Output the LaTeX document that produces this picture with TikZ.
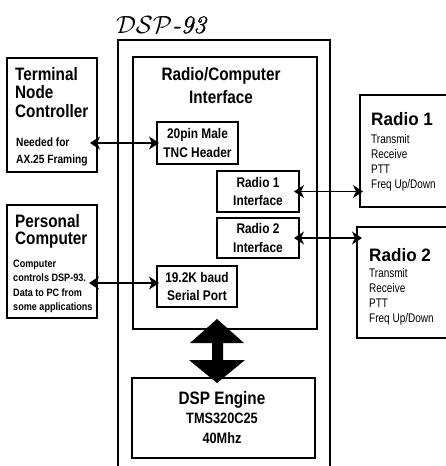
\documentclass[tikz,border=0pt]{standalone}
\usepackage{fontspec}
\setmainfont{Liberation Sans}
\newfontfamily\bnarrow[FakeStretch=0.85]{Liberation Sans}
\newfontfamily\rnarrow[FakeStretch=0.8]{Liberation Sans}
\newfontfamily\rwide[FakeStretch=0.95]{Liberation Sans}
\newfontfamily\lmfont[FakeBold=1.2]{Latin Modern Roman}
\usetikzlibrary{arrows.meta}
\begin{document}
\begin{tikzpicture}[x=1pt,y=-1pt,
  box/.style={draw, line width=1.6pt, inner sep=0pt, outer sep=0pt, anchor=north west},
  ibox/.style={box, align=center, font=\bnarrow\bfseries\fontsize{14}{18.5}\selectfont},
  ttl/.style={anchor=base west, inner sep=0pt, font=\bnarrow\bfseries\fontsize{18}{18}\selectfont},
  cttl/.style={ttl, anchor=base},
  rttl/.style={anchor=base west, inner sep=0pt, font=\rwide\bfseries\fontsize{18}{18}\selectfont},
  smA/.style={anchor=base west, inner sep=0pt, font=\bnarrow\bfseries\fontsize{12}{12}\selectfont},
  smB/.style={anchor=base west, inner sep=0pt, font=\bnarrow\bfseries\fontsize{10.7}{10.7}\selectfont},
  det/.style={anchor=base west, inner sep=0pt, font=\rnarrow\fontsize{12.5}{12.5}\selectfont},
  eng/.style={anchor=base, inner sep=0pt, font=\bnarrow\bfseries\fontsize{15}{15}\selectfont},
  conn/.style={line width=1.5pt, {Stealth[length=10pt,width=13pt,inset=3pt]}-{Stealth[length=10pt,width=13pt,inset=3pt]}}
]
\useasboundingbox (0,0) rectangle (445,466);

% title
\node[anchor=base, inner sep=0pt, font=\fontsize{25}{25}\selectfont] (title) at (161,33)
  {$\mathcal{DSP}$\lmfont\itshape -93};

% outer DSP-93 enclosure
\node[box, line width=1.3pt, minimum width=212pt, minimum height=440pt] (dsp93) at (118,40) {};
% radio/computer interface
\node[box, minimum width=184pt, minimum height=272pt] (rci) at (133,57) {};
\node[cttl] (rci1) at (221,80) {Radio/Computer};
\node[cttl] (rci2) at (221,103) {Interface};

% inner boxes
\node[ibox, minimum width=81pt, minimum height=42pt] (hdr) at (157,122) {20pin Male\\TNC Header};
\node[ibox, minimum width=82pt, minimum height=41pt] (r1if) at (217,171) {Radio 1\\Interface};
\node[ibox, minimum width=82pt, minimum height=40pt] (r2if) at (217,218) {Radio 2\\Interface};
\node[ibox, minimum width=80pt, minimum height=41pt] (serial) at (157,266) {19.2K baud\\Serial Port};

% DSP engine
\node[box, minimum width=183pt, minimum height=80pt] (dsp) at (132,378) {};
\node[anchor=base, inner sep=0pt, font=\bnarrow\bfseries\fontsize{18}{18}\selectfont] (de1) at (222,404) {DSP Engine};
\node[eng] (de2) at (222,423) {TMS320C25};
\node[eng] (de3) at (222,443) {40Mhz};

% TNC
\node[box, minimum width=90pt, minimum height=114pt] (tnc) at (7,58) {};
\node[ttl] (tnc1) at (15,80) {Terminal};
\node[ttl] (tnc2) at (15,98.5) {Node};
\node[ttl] (tnc3) at (15,117) {Controller};
\node[smA] (tnc4) at (16,146) {Needed for};
\node[smA] (tnc5) at (16,163) {AX.25 Framing};

% Personal computer
\node[box, minimum width=90pt, minimum height=113pt] (pc) at (7,205) {};
\node[ttl] (pc1) at (15,227) {Personal};
\node[ttl] (pc2) at (15,244) {Computer};
\node[smB] (pc3) at (13,267) {Computer};
\node[smB] (pc4) at (13,281.5) {controls DSP-93.};
\node[smB] (pc5) at (13,296) {Data to PC from};
\node[smB] (pc6) at (13,310.5) {some applications};

% Radio 1
\node[box, minimum width=100pt, minimum height=112pt] (radio1) at (360,95) {};
\node[rttl] (ra1) at (371,125) {Radio 1};
\node[det] (ra2) at (371,143) {Transmit};
\node[det] (ra3) at (371,158) {Receive};
\node[det] (ra4) at (371,173) {PTT};
\node[det] (ra5) at (371,188) {Freq Up/Down};

% Radio 2
\node[box, minimum width=100pt, minimum height=111pt] (radio2) at (357,227) {};
\node[rttl] (rb1) at (369,261) {Radio 2};
\node[det] (rb2) at (369,277) {Transmit};
\node[det] (rb3) at (369,292) {Receive};
\node[det] (rb4) at (369,307) {PTT};
\node[det] (rb5) at (369,322) {Freq Up/Down};

% connectors
\coordinate (pcy) at (0,283);
\draw[conn, shorten <=-7pt, shorten >=-2pt] (tnc.east |- hdr.west) -- (hdr.west);
\draw[conn, shorten <=-8pt, shorten >=-2pt] (pc.east |- pcy) -- (serial.west |- pcy);
\draw[conn, shorten <=-5pt, shorten >=-3pt] (r1if.east) -- (r1if.east -| radio1.west);
\draw[conn, shorten <=-5pt, shorten >=-5pt] (r2if.east) -- (r2if.east -| radio2.west);

% big double arrow between interface and DSP engine
\fill (217,319) -- (244,343) -- (223,343) -- (223,360) -- (245,360) -- (217,383)
  -- (189,360) -- (212,360) -- (212,343) -- (190,343) -- cycle;
\end{tikzpicture}
\end{document}
